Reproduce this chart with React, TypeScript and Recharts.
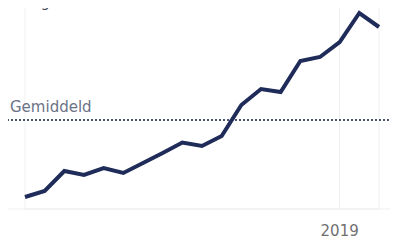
import React from 'react';
import { LineChart, Line, XAxis, YAxis, ReferenceLine, ReferenceArea } from 'recharts';

// jaren op de x-as
const years = [
  '2003', '2004', '2005', '2006', '2007', '2008', '2009', '2010', '2011', '2012',
  '2013', '2014', '2015', '2016', '2017', '2018', '2019', '2020', '2021',
];
// geschatte waarden (index)
const values = [3, 9, 29, 25, 32, 27, 37, 47, 57.5, 54, 64, 95, 111, 108, 139, 143, 158, 187, 173];
const xTicks = ['2019'];
const gemiddeld = 80;

const data = years.map((year, i) => ({ year, value: values[i] }));

const font = '"DejaVu Sans", Tahoma, sans-serif';

const AvgLabel = ({ viewBox }: any) => (
  <text x={viewBox.x + 3} y={viewBox.y - 8} fill="#6b7387" fontSize={15} fontFamily={font}>
    Gemiddeld
  </text>
);

// bovenste label, grotendeels buiten beeld zoals in het origineel
const TopLabel = ({ viewBox }: any) => (
  <text x={13} y={viewBox.y + 7} fill="#444a55" fontSize={14} fontFamily={font}>
    Hoogste waarde
  </text>
);

export default function App() {
  return (
    <div style={{ position: 'relative', width: 398, height: 250, margin: -8, overflow: 'hidden', background: '#fff' }}>
      <LineChart width={398} height={250} data={data} margin={{ top: 0, right: 3, left: 7, bottom: 0 }}>
        <XAxis
          dataKey="year"
          ticks={xTicks}
          interval={0}
          height={41}
          padding={{ left: 18, right: 16 }}
          tickLine={false}
          axisLine={{ stroke: '#efefef' }}
          tickMargin={10}
          tick={{ fontSize: 15, fill: '#707070', fontFamily: font }}
        />
        <YAxis hide domain={[-9, 200]} />
        <ReferenceArea y1={-9} y2={200} fill="none" stroke="#f0f0f0" />
        <ReferenceLine x="2019" stroke="#eeeeee" />
        <ReferenceLine y={200} stroke="none" label={<TopLabel />} />
        <ReferenceLine
          y={gemiddeld}
          stroke="#4b5570"
          strokeWidth={2}
          strokeDasharray="2 2"
          label={<AvgLabel />}
        />
        <Line
          type="linear"
          dataKey="value"
          stroke="#1f2b58"
          strokeWidth={4}
          dot={false}
          isAnimationActive={false}
        />
      </LineChart>
    </div>
  );
}
